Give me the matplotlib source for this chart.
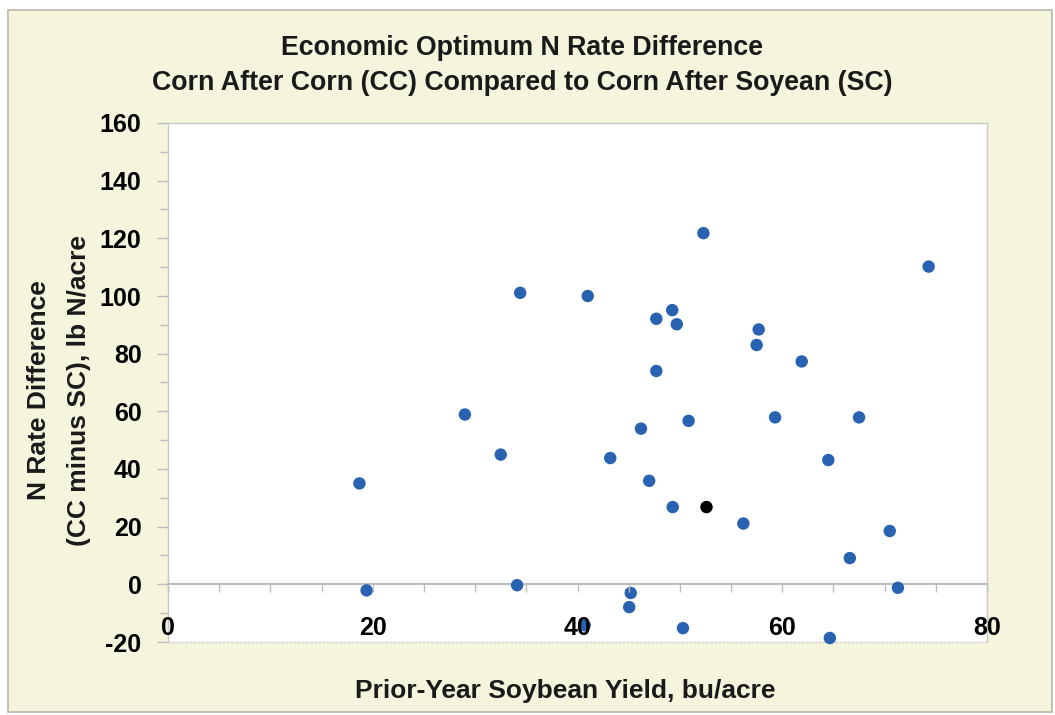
import numpy as np
import matplotlib
matplotlib.use('Agg')
from matplotlib import pyplot as plt
from matplotlib.patches import Rectangle
from matplotlib.ticker import MultipleLocator

plt.rcParams['font.family'] = ['Liberation Sans', 'DejaVu Sans']
plt.rcParams['font.weight'] = 'bold'
plt.rcParams['axes.unicode_minus'] = False

# prior-year soybean yield (bu/acre) and N rate difference (lb N/acre)
soy_yield = [18.7, 19.4, 29.0, 32.5, 34.1, 34.4, 40.7, 41.0, 43.2, 45.05, 45.2,
             46.2, 47.0, 47.7, 47.7, 49.25, 49.3, 49.7, 50.3, 50.85, 52.3, 56.2,
             57.5, 57.7, 59.3, 61.9, 64.5, 64.65, 66.6, 67.5, 70.5, 71.3, 74.3]
n_diff = [35.0, -2.1, 58.9, 45.0, -0.3, 101.1, -14.2, 100.0, 43.8, -7.9, -3.0,
          54.0, 35.9, 92.1, 74.0, 95.1, 26.8, 90.2, -15.2, 56.7, 121.8, 21.1,
          83.0, 88.4, 57.9, 77.3, 43.1, -18.6, 9.1, 57.9, 18.5, -1.2, 110.2]
# highlighted site
hl_yield = [52.6]
hl_diff = [26.8]

title_txt = 'Economic Optimum N Rate Difference\nCorn After Corn (CC) Compared to Corn After Soyean (SC)'
xlab = 'Prior-Year Soybean Yield, bu/acre'
ylab = 'N Rate Difference\n(CC minus SC), lb N/acre'

W, H = 1055, 715
fig = plt.figure(figsize=(W / 100, H / 100), dpi=100)
fig.patch.set_facecolor('white')

# cream chart-area background with grey border
fig.patches.append(Rectangle((8 / W, 3 / H), 1044 / W, 702 / H, transform=fig.transFigure,
                             facecolor='#f5f4dc', edgecolor='#b8b8ac', linewidth=1.2, zorder=-5))

ax = fig.add_axes([168 / W, (H - 642) / H, 819 / W, 519 / H])
ax.set_zorder(2)
ax.set_facecolor('white')
ax.set_xlim(0, 80)
ax.set_ylim(-20, 160)

ax.scatter(soy_yield, n_diff, s=80, color='#2862b0', edgecolors='none', zorder=3, clip_on=False)
ax.scatter(hl_yield, hl_diff, s=80, color='black', edgecolors='none', zorder=4)

for side in ['top', 'right', 'left']:
    ax.spines[side].set_color('#c8c8c8')
    ax.spines[side].set_linewidth(1.0)
ax.spines['bottom'].set_position(('data', 0))
ax.spines['bottom'].set_color('#bdbdbd')
ax.spines['bottom'].set_linewidth(1.5)
ax.axhline(-20, color='#cfcfcf', linewidth=1.0, linestyle=(0, (2, 1)), zorder=1, clip_on=False)

ax.xaxis.set_major_locator(MultipleLocator(20))
ax.xaxis.set_minor_locator(MultipleLocator(5))
ax.yaxis.set_major_locator(MultipleLocator(20))
ax.yaxis.set_minor_locator(MultipleLocator(10))
ax.tick_params(axis='x', which='both', direction='out', length=6, width=1, color='#bdbdbd',
               labelsize=18, pad=17)
ax.tick_params(axis='y', which='major', direction='out', length=8, width=1, color='#bdbdbd',
               labelsize=18, pad=11)
ax.tick_params(axis='y', which='minor', direction='out', length=6, width=1, color='#bdbdbd')
for lab in ax.get_xticklabels() + ax.get_yticklabels():
    lab.set_fontweight('bold')
# x tick labels sit on top of the points, as in the reference
ax.xaxis.set_zorder(5)

fig.text(522 / W, 1 - 65.5 / H, title_txt, ha='center', va='center', fontsize=19.3,
         fontweight='bold', linespacing=1.45, color='#1a1a1a')
fig.text(565 / W, 1 - 691 / H, xlab, ha='center', va='center', fontsize=19,
         fontweight='bold', color='#1a1a1a')
fig.text(59 / W, 1 - 390 / H, ylab, ha='center', va='center', fontsize=19,
         fontweight='bold', rotation=90, linespacing=1.8, color='#1a1a1a')

plt.savefig('out.png', dpi=100)
plt.close()
